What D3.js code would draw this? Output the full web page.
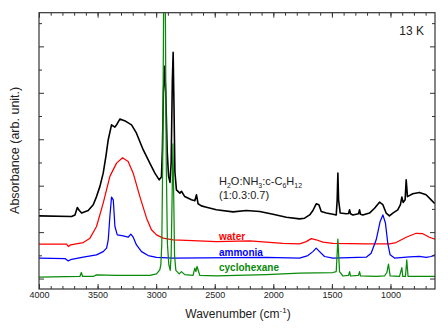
<!DOCTYPE html>
<html lang="en">
<head>
    <meta charset="UTF-8">
    <title>IR spectra 13 K</title>
    <script src="https://cdn.jsdelivr.net/npm/d3@7"></script>
    <style>
        body { margin: 0; background: #fff; }
        text { font-family: "Liberation Sans", Arial, sans-serif; }
    </style>
</head>
<body>
    <div id="chart-space"></div>

    <script>
        // spectra as [wavenumber (cm-1), absorbance (arb.)]
        var mixture = [
            [4000, 2.70], [3722, 2.67], [3693, 2.74], [3673, 3.06], [3656, 2.93], [3636, 2.82],
            [3580, 2.93], [3537, 3.18], [3509, 3.53], [3480, 3.97], [3452, 4.54], [3429, 5.26],
            [3409, 5.98], [3381, 6.62], [3352, 6.52], [3332, 6.67], [3310, 6.87], [3259, 6.77],
            [3210, 6.62], [3168, 6.26], [3111, 5.55], [3054, 4.97], [3011, 4.54], [2974, 4.25],
            [2955, 4.37], [2947, 5.5], [2938, 8.0], [2928, 9.14], [2918, 8.0], [2906, 5.5],
            [2894, 4.4], [2882, 4.14], [2872, 5.0], [2862, 8.5], [2855, 9.74], [2848, 7.5],
            [2840, 4.6], [2827, 3.82], [2798, 3.68], [2784, 3.76], [2756, 3.53], [2699, 3.39],
            [2670, 3.35], [2656, 3.61], [2642, 3.22], [2614, 3.13], [2571, 3.07], [2486, 2.96],
            [2344, 2.87], [2230, 2.93], [2116, 2.89], [2003, 2.77], [1889, 2.64], [1776, 2.57],
            [1733, 2.60], [1690, 2.74], [1662, 2.93], [1634, 3.22], [1611, 3.18], [1591, 2.89],
            [1548, 2.82], [1491, 2.77], [1463, 2.74], [1455, 3.39], [1449, 4.54], [1443, 3.39],
            [1429, 2.82], [1378, 2.79], [1358, 2.80], [1349, 2.96], [1341, 2.79], [1321, 2.74],
            [1273, 2.79], [1264, 2.96], [1256, 2.77], [1236, 2.74], [1179, 2.82], [1136, 3.03],
            [1094, 3.29], [1065, 3.18], [1037, 2.82], [1009, 2.70], [980, 2.82], [938, 2.96],
            [915, 3.18], [903, 3.51], [892, 3.28], [875, 3.39], [866, 4.25], [855, 3.53],
            [810, 3.65], [753, 3.71], [696, 3.61], [653, 3.39], [620, 3.22]
        ];

        var water = [
            [4000, 1.48], [3764, 1.48], [3750, 1.38], [3730, 1.45], [3622, 1.55], [3565, 1.74],
            [3509, 2.24], [3452, 3.25], [3395, 4.40], [3338, 4.97], [3287, 5.20], [3239, 5.04],
            [3196, 4.54], [3139, 3.53], [3082, 2.60], [3040, 2.10], [2997, 1.88], [2940, 1.74],
            [2855, 1.67], [2742, 1.64], [2486, 1.59], [2202, 1.62], [1918, 1.52], [1776, 1.49],
            [1719, 1.59], [1676, 1.72], [1634, 1.67], [1577, 1.57], [1491, 1.52], [1207, 1.49],
            [1009, 1.49], [952, 1.55], [866, 1.78], [781, 1.95], [724, 1.93], [668, 1.78],
            [620, 1.70]
        ];

        var ammonia = [
            [4000, 0.88], [3778, 0.86], [3750, 0.76], [3722, 0.83], [3622, 0.92], [3509, 1.02],
            [3452, 1.16], [3423, 1.31], [3409, 1.67], [3395, 2.67], [3381, 3.51], [3366, 3.39],
            [3352, 2.24], [3332, 1.88], [3281, 1.84], [3239, 1.78], [3216, 1.91], [3196, 1.78],
            [3168, 1.45], [3125, 1.16], [3068, 0.99], [2997, 0.91], [2855, 0.88], [2060, 0.91],
            [1776, 0.88], [1705, 0.99], [1662, 1.16], [1634, 1.31], [1605, 1.16], [1563, 0.95],
            [1491, 0.88], [1207, 0.92], [1165, 1.09], [1122, 1.67], [1088, 2.46], [1065, 2.74],
            [1043, 2.39], [1023, 1.52], [1003, 1.02], [966, 0.88], [838, 0.93], [753, 0.96],
            [696, 0.91], [653, 0.95], [620, 1.02]
        ];

        var cyclohexane = [
            [4000, 0.06], [3651, 0.09], [3639, 0.26], [3628, 0.09], [3537, 0.09], [3509, 0.16],
            [3338, 0.14], [3054, 0.14], [2997, 0.20], [2969, 0.37], [2960, 0.6], [2952, 1.5],
            [2944, 5.0], [2936, 12.0], [2930, 14.0], [2922, 12.0], [2914, 5.0], [2904, 1.5],
            [2892, 0.6], [2880, 0.35], [2872, 1.0], [2864, 3.5], [2857, 5.8], [2850, 3.5],
            [2843, 1.0], [2832, 0.35], [2804, 0.20], [2784, 0.30], [2756, 0.17], [2685, 0.14],
            [2670, 0.45], [2661, 0.30], [2651, 0.52], [2628, 0.14], [2486, 0.11], [2060, 0.17],
            [1776, 0.23], [1491, 0.26], [1463, 0.30], [1449, 1.70], [1435, 0.30], [1406, 0.11],
            [1358, 0.14], [1349, 0.30], [1341, 0.11], [1273, 0.14], [1264, 0.30], [1256, 0.11],
            [1122, 0.09], [1051, 0.11], [1031, 0.26], [1017, 0.62], [1003, 0.11], [923, 0.09],
            [903, 0.47], [895, 0.09], [872, 0.09], [861, 0.80], [850, 0.09], [620, 0.09]
        ];

        var seriesNames = ["mixture", "water", "ammonia", "cyclohexane"];
        var seriesData = [mixture, water, ammonia, cyclohexane];
        var seriesColors = ["#000000", "#ff0000", "#0000ff", "#0a8a0a"];
        var legendLabels = ["water", "ammonia", "cyclohexane"];
        var xTickValues = [4000, 3500, 3000, 2500, 2000, 1500, 1000];

        var width = 448;
        var height = 334;
        var margin = {top: 12.7, right: 13, bottom: 45, left: 39};
        var chartWidth = width - margin.left - margin.right;
        var chartHeight = height - margin.top - margin.bottom;

        var svg = d3.select("#chart-space")
            .append("svg")
            .attr("width", width)
            .attr("height", height);

        var g = svg.append("g")
            .attr("transform", "translate(" + margin.left + "," + margin.top + ")");

        var xScale = d3.scaleLinear()
            .domain([4000, 620])
            .range([0, chartWidth]);

        var yScale = d3.scaleLinear()
            .domain([-0.45, 11.45])
            .range([chartHeight, 0]);

        g.append("clipPath")
            .attr("id", "plot-clip")
            .append("rect")
            .attr("width", chartWidth)
            .attr("height", chartHeight);

        var line = d3.line()
            .x(function(d) { return xScale(d[0]); })
            .y(function(d) { return yScale(d[1]); });

        // draw order: black on bottom, green on top
        g.append("g")
            .attr("clip-path", "url(#plot-clip)")
            .selectAll("path")
            .data(seriesNames)
            .join("path")
            .attr("d", function(d, i) { return line(seriesData[i]); })
            .attr("fill", "none")
            .attr("stroke", function(d, i) { return seriesColors[i]; })
            .attr("stroke-width", function(d, i) { return i === 0 ? 1.6 : 1.25; })
            .attr("stroke-linejoin", "round");

        // axes with inward ticks on all four sides
        var xMinor = d3.range(4000, 600, -100);
        var yMajor = [0, 2, 4, 6, 8, 10];
        var yMinor = [1, 3, 5, 7, 9, 11];

        g.append("g")
            .attr("class", "axis")
            .attr("transform", "translate(0," + chartHeight + ")")
            .call(d3.axisBottom(xScale).tickValues(xMinor).tickSize(-3).tickFormat(""));
        g.append("g")
            .attr("class", "axis")
            .attr("transform", "translate(0," + chartHeight + ")")
            .call(d3.axisBottom(xScale).tickValues(xTickValues).tickSize(-5).tickPadding(2.5)
                .tickFormat(d3.format("d")));
        g.append("g")
            .attr("class", "axis")
            .call(d3.axisTop(xScale).tickValues(xMinor).tickSize(-3).tickFormat(""));
        g.append("g")
            .attr("class", "axis")
            .call(d3.axisTop(xScale).tickValues(xTickValues).tickSize(-5).tickFormat(""));
        g.append("g")
            .attr("class", "axis")
            .call(d3.axisLeft(yScale).tickValues(yMajor).tickSize(-5).tickFormat(""));
        g.append("g")
            .attr("class", "axis")
            .call(d3.axisLeft(yScale).tickValues(yMinor).tickSize(-3).tickFormat(""));
        g.append("g")
            .attr("class", "axis")
            .attr("transform", "translate(" + chartWidth + ",0)")
            .call(d3.axisRight(yScale).tickValues(yMajor).tickSize(-5).tickFormat(""));
        g.append("g")
            .attr("class", "axis")
            .attr("transform", "translate(" + chartWidth + ",0)")
            .call(d3.axisRight(yScale).tickValues(yMinor).tickSize(-3).tickFormat(""));

        g.selectAll(".axis .domain").remove();
        g.selectAll(".axis line").attr("stroke", "#333").attr("stroke-width", 1);
        g.selectAll(".axis text")
            .attr("font-size", 9)
            .attr("fill", "#222")
            .style("font-family", "'Liberation Sans', Arial, sans-serif");

        g.append("rect")
            .attr("width", chartWidth)
            .attr("height", chartHeight)
            .attr("fill", "none")
            .attr("stroke", "#333")
            .attr("stroke-width", 1.2);

        // axis titles
        var xTitle = svg.append("text")
            .attr("x", margin.left + chartWidth / 2 + 1)
            .attr("y", 318)
            .attr("text-anchor", "middle")
            .attr("font-size", 12)
            .attr("fill", "#222");
        xTitle.append("tspan").text("Wavenumber (cm");
        xTitle.append("tspan").attr("font-size", 8).attr("dy", -5).text("-1");
        xTitle.append("tspan").attr("dy", 5).text(")");

        svg.append("text")
            .attr("transform", "translate(19," + (margin.top + chartHeight / 2 - 0.5) + ") rotate(-90)")
            .attr("text-anchor", "middle")
            .attr("font-size", 12.5)
            .attr("fill", "#222")
            .text("Absorbance (arb. unit.)");

        svg.append("text")
            .attr("x", 424)
            .attr("y", 35)
            .attr("text-anchor", "end")
            .attr("font-size", 12)
            .attr("fill", "#222")
            .text("13 K");

        // mixture label with subscripts
        var parts = [["H", ""], ["2", "sub"], ["O:NH", ""], ["3", "sub"], [":c-C", ""], ["6", "sub"], ["H", ""], ["12", "sub"]];
        var mixLabel = svg.append("text")
            .attr("x", 219)
            .attr("y", 185)
            .attr("font-size", 11)
            .attr("fill", "#222");
        var shifted = false;
        parts.forEach(function(p) {
            var t = mixLabel.append("tspan").text(p[0]);
            if (p[1] === "sub" && !shifted) {
                t.attr("font-size", 7).attr("dy", 3);
                shifted = true;
            } else if (p[1] !== "sub" && shifted) {
                t.attr("dy", -3);
                shifted = false;
            } else if (p[1] === "sub") {
                t.attr("font-size", 7);
            }
        });
        svg.append("text")
            .attr("x", 219)
            .attr("y", 199)
            .attr("font-size", 11)
            .attr("fill", "#222")
            .text("(1:0.3:0.7)");

        var legendY = [239.5, 256, 271];
        svg.selectAll(".series-label")
            .data(legendLabels)
            .join("text")
            .attr("class", "series-label")
            .attr("x", 219)
            .attr("y", function(d, i) { return legendY[i]; })
            .attr("font-size", 10)
            .attr("font-weight", "bold")
            .attr("fill", function(d, i) { return seriesColors[i + 1]; })
            .text(function(d) { return d; });
    </script>
</body>
</html>
